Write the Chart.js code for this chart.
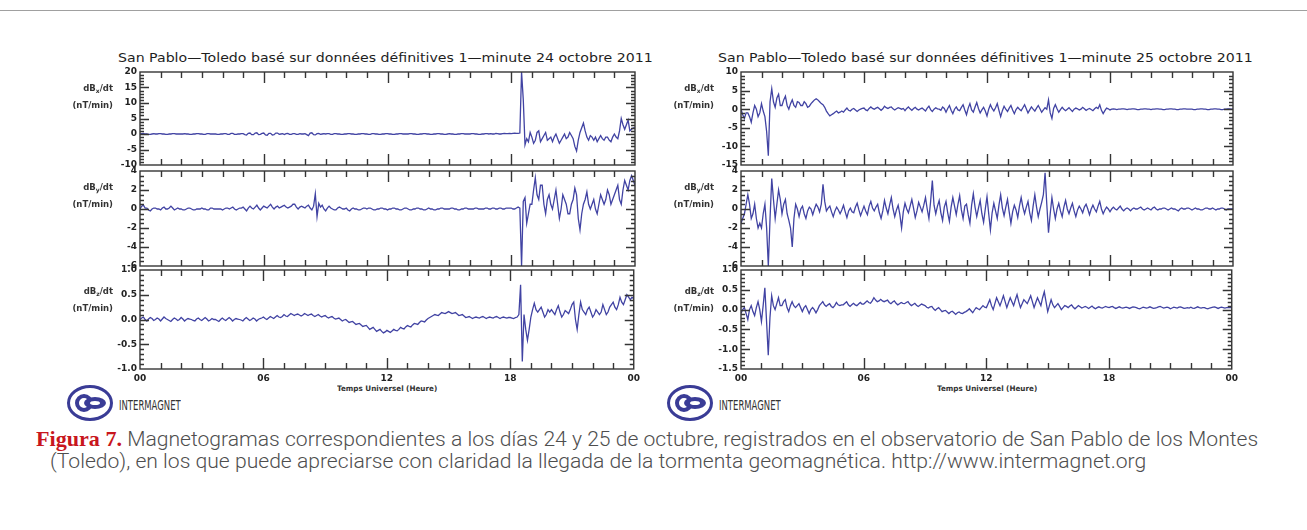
<!DOCTYPE html>
<html>
<head>
<meta charset="utf-8">
<script src="https://cdn.jsdelivr.net/npm/chart.js@4.4.1/dist/chart.umd.min.js"></script>
<style>
  body { margin: 0; background: #fff; }
  #page { position: relative; width: 1307px; height: 530px; overflow: hidden; background: #fff; }
  #page canvas { position: absolute; }
  .topline { position: absolute; left: 0; top: 10px; width: 1307px; height: 1px; background: #a0a0a0; }
  .title { position: absolute; font: 13px "DejaVu Sans", sans-serif; line-height: 14px; color: #1e1e1e; white-space: nowrap; transform-origin: 0 0; }
  .ylab { position: absolute; width: 60px; text-align: right; font: bold 8.5px "DejaVu Sans", sans-serif; line-height: 17px; color: #333; white-space: nowrap; }
  .ylab sub { font-size: 6px; vertical-align: -2px; line-height: 0; }
  .xtitle { position: absolute; font: bold 7.5px "DejaVu Sans", sans-serif; line-height: 9px; color: #333; white-space: nowrap; transform-origin: 0 0; }
  .logo { position: absolute; width: 46px; height: 36px; }
  .logo .ring { position: absolute; left: 0; top: 0; width: 46px; height: 36px; box-sizing: border-box; border: 3px solid #3a3c96; border-radius: 50%; }
  .logo .c { position: absolute; left: 8px; top: 9px; width: 18px; height: 18px; box-sizing: border-box; border: 4px solid #3a3c96; border-radius: 50%; }
  .logo .o { position: absolute; left: 17px; top: 12px; width: 22px; height: 12px; background: #3a3c96; border-radius: 50%; }
  .logo .o::after { content: ""; position: absolute; left: 6px; top: 4px; width: 10px; height: 4px; background: #fff; border-radius: 50%; }
  .im { position: absolute; font: 14px "Liberation Sans Narrow", "DejaVu Sans Condensed", sans-serif; line-height: 14px; color: #333; white-space: nowrap; transform-origin: 0 0; }
  .cap { position: absolute; font: 300 21px Roboto, "DejaVu Sans Condensed", sans-serif; line-height: 22px; color: #4e4e4e; white-space: nowrap; transform-origin: 0 0; }
  .cap .fig { font: bold 22px "Liberation Serif", serif; color: #c8161d; }
</style>
</head>
<body>
<div id="page">
  <div class="topline"></div>
  <div class="title" id="title24" style="left:118px;top:51px">San Pablo—Toledo basé sur données définitives 1—minute 24 octobre 2011</div>
  <div class="title" id="title25" style="left:718px;top:51px">San Pablo—Toledo basé sur données définitives 1—minute 25 octobre 2011</div>
  <div class="xtitle" id="xt24" style="left:337px;top:384px">Temps Universel (Heure)</div>
  <div class="xtitle" id="xt25" style="left:937px;top:384px">Temps Universel (Heure)</div>
  <div class="logo" style="left:67px;top:385px"><div class="ring"></div><div class="c"></div><div class="o"></div></div>
  <div class="im" id="im24" style="left:119px;top:398px">INTERMAGNET</div>
  <div class="logo" style="left:667px;top:385px"><div class="ring"></div><div class="c"></div><div class="o"></div></div>
  <div class="im" id="im25" style="left:719px;top:398px">INTERMAGNET</div>
  <div class="cap" id="cap1" style="left:36px;top:426px"><span class="fig">Figura 7.</span> Magnetogramas correspondientes a los días 24 y 25 de octubre, registrados en el observatorio de San Pablo de los Montes</div>
  <div class="cap" id="cap2" style="left:50px;top:450px">(Toledo), en los que puede apreciarse con claridad la llegada de la tormenta geomagnética. http://www.intermagnet.org</div>
</div>
<script>
// one value every 5 minutes, 00:00 -> 24:00 (289 values, 12 per row = 1 hour)
const STEP = 5;
const hourLabels = ['00', '06', '12', '18', '00'];

// 24 octobre 2011
const oct24Bx = [
  0, 0.1, 0.2, 0, 0, -0.1, -0.1, 0, 0.1, 0, 0, 0.1,
  0.1, 0, 0, -0.1, -0.1, 0, 0, 0.1, 0.1, 0, 0, 0,
  0, 0, 0.1, 0, 0, -0.1, -0.1, 0, 0, 0.1, 0.1, 0,
  0, -0.1, -0.1, 0.1, 0.1, 0, 0, 0, 0, -0.1, -0.1, 0,
  0, 0.1, 0.1, -0.1, -0.1, 0.2, 0.2, -0.1, -0.1, 0, 0, 0.1,
  0.1, -0.2, -0.3, 0.2, 0.3, -0.2, -0.2, 0.3, 0.4, -0.2, -0.1, 0.2,
  0.3, -0.3, -0.4, 0.2, 0.2, -0.3, -0.2, 0.3, 0.3, -0.1, 0, 0.1,
  -0.2, 0.1, 0.2, -0.1, -0.1, 0.1, 0.1, -0.1, -0.1, 0.1, 0, 0,
  0.1, -0.2, -0.5, 0.3, 0.4, -0.2, -0.3, 0.1, 0.2, -0.1, 0, 0.1,
  0, 0.1, 0.1, -0.1, -0.1, 0.1, 0.1, 0, 0, -0.1, -0.1, 0,
  0, 0.1, 0.1, 0, 0, -0.1, -0.1, 0, 0, 0.1, 0.1, 0,
  0, -0.1, -0.1, 0.1, 0.1, 0, 0, -0.1, -0.1, 0, 0, 0.1,
  0.1, 0, 0, -0.1, -0.1, 0, 0, 0.1, 0.1, 0, 0, 0,
  0, 0.1, 0.1, 0, 0, -0.1, -0.1, 0, 0, 0.1, 0.1, 0,
  0, -0.1, -0.1, 0, 0, 0.1, 0.1, 0, 0, -0.1, -0.1, 0,
  0.1, 0, 0, -0.1, -0.1, 0, 0, 0.1, 0.1, 0, 0, 0,
  0, 0.1, 0.1, 0, 0, -0.1, -0.1, 0, 0, 0.1, 0.1, 0,
  0.1, 0, 0, 0.2, 0.1, 0, 0, 0.1, 0.2, 0.1, 0.1, 0.2,
  0.1, 0.2, 0.3, 0.2, 0.2, 0.3, 20, 11, -3.5, -1.5, -2.5, 0.5,
  -1, -3, -2, 0.5, 1, -2.5, -1.5, -0.5, 0.5, -2, -1.5, -1,
  -2.5, -1, 0, -1.5, -3, -2, -1, 0, -1.5, -1, 0.5, -0.5,
  -1.5, -4, -5.5, -2, 0.5, 2, 3.5, 1, -1, -2, -0.5, -1,
  -2, -1, -2.5, -1.5, -0.5, -1.5, -2, -1, -1, -2, -2.5, -1,
  0, -1, -1.5, 1, 5, 3, 1.5, 3, 4.5, 1, 1.5, 2,
  2
];
const oct24By = [
  0, 0.3, 0.4, 0.1, 0.1, -0.1, -0.2, 0, 0.1, 0.1, 0, 0,
  -0.1, 0.1, 0.2, 0, 0, 0.1, 0.3, 0.1, -0.1, 0, 0.1, 0,
  0, -0.1, -0.1, 0, 0.1, 0.1, 0, -0.1, -0.1, 0, 0, 0,
  0.1, 0, 0, -0.1, -0.1, 0.1, 0.1, 0, 0, 0, 0, 0,
  -0.1, 0, 0.1, 0.1, 0, 0.1, 0.2, 0, -0.1, 0, 0.1, 0.1,
  0.2, 0, -0.2, 0.1, 0.3, 0.1, 0, 0.2, 0.4, 0.1, -0.1, 0.1,
  0.3, 0.2, 0.1, 0.3, 0.5, 0.2, 0, 0.2, 0.3, 0.1, 0.2, 0.3,
  0.4, 0.2, 0.1, 0.2, 0.3, 0.5, 0.5, 0.2, 0, 0.2, 0.3, 0.2,
  0.1, 0.3, 0.4, 0.1, -0.1, 0.3, 1.6, -0.8, 0.6, 0.2, 0.4, 0,
  -0.2, 0.1, 0.3, 0.1, 0, -0.1, -0.1, 0.1, 0.2, 0.1, 0, 0,
  0.1, -0.1, -0.2, 0, 0.1, 0, 0, -0.1, -0.1, 0, 0.1, 0.1,
  0, 0.1, 0.1, 0, -0.1, -0.1, 0, 0, 0.1, 0.1, 0, 0,
  -0.1, 0, 0, 0.1, 0.1, 0, 0, -0.1, -0.1, 0, 0.1, 0.1,
  0, -0.1, -0.1, 0, 0, 0.1, 0.1, 0, 0, -0.1, -0.1, 0,
  0.1, 0, 0, -0.1, -0.1, 0, 0, 0.1, 0.1, 0, 0, 0,
  0, 0.1, 0.1, 0, 0, -0.1, -0.1, 0, 0, 0.1, 0.1, 0,
  0, 0, 0, 0.1, 0.1, 0, 0, 0, 0, 0.1, 0.1, 0,
  0, 0.1, 0.1, 0, 0, 0.1, 0.1, 0, 0, 0.1, 0.1, 0.1,
  0.1, 0, 0, 0.1, 0.2, 0.1, -6, 0.8, 1.2, -1.5, -0.5, 0.5,
  0.5, 2, 3.3, 1.5, 1, 2.5, 2.5, 0.5, -0.5, 1, 1.5, 0.5,
  0, 1, 2, 0.5, -1, 0, 1.5, 1, 0.5, -0.5, -0.5, 0.5,
  1, 2.2, 1.5, -1, -2.2, -0.5, 0.5, 1, 1.8, 0.5, 0, 0.5,
  1, 0, -0.5, 0.5, 1.5, 1, 0.5, 1, 2, 1.5, 0.5, 1,
  1.5, 2, 2.5, 1, 0.5, 2, 3, 2.5, 2, 3, 3.5, 3,
  2.5
];
const oct24Bz = [
  0, 0.03, 0.05, 0, -0.03, 0.01, 0.04, 0.02, -0.02, 0, 0.03, 0.01,
  -0.03, 0.01, 0.05, 0.02, 0, -0.02, -0.04, 0, 0.03, 0.01, -0.02, 0,
  0.04, 0.01, -0.03, 0, 0.02, 0.01, 0, -0.02, -0.03, 0.01, 0.03, 0,
  -0.02, 0.01, 0.04, 0.01, -0.03, -0.01, 0.02, 0, 0, -0.02, -0.04, 0,
  0.03, 0, -0.02, 0.01, 0.04, 0.01, -0.03, 0, 0.02, 0.01, 0, -0.01,
  -0.03, 0.01, 0.04, 0.01, -0.02, 0, 0.03, 0.01, -0.03, 0, 0.02, 0.03,
  0.05, 0.02, 0, 0.03, 0.06, 0.04, 0.02, 0.05, 0.08, 0.05, 0.04, 0.06,
  0.1, 0.07, 0.06, 0.09, 0.12, 0.1, 0.08, 0.1, 0.11, 0.09, 0.07, 0.09,
  0.12, 0.1, 0.08, 0.1, 0.11, 0.08, 0.06, 0.08, 0.1, 0.07, 0.05, 0.07,
  0.08, 0.05, 0.03, 0.05, 0.06, 0.03, 0.01, 0.02, 0.03, 0, -0.03, -0.01,
  0, -0.03, -0.06, -0.05, -0.04, -0.07, -0.1, -0.09, -0.08, -0.11, -0.14, -0.13,
  -0.12, -0.16, -0.2, -0.18, -0.16, -0.2, -0.24, -0.22, -0.2, -0.24, -0.27, -0.25,
  -0.22, -0.24, -0.26, -0.23, -0.2, -0.22, -0.23, -0.2, -0.16, -0.18, -0.19, -0.15,
  -0.12, -0.14, -0.15, -0.11, -0.08, -0.09, -0.1, -0.06, -0.03, -0.04, -0.05, -0.01,
  0.02, 0.04, 0.06, 0.08, 0.1, 0.09, 0.08, 0.11, 0.14, 0.13, 0.12, 0.14,
  0.16, 0.14, 0.12, 0.13, 0.14, 0.11, 0.08, 0.09, 0.1, 0.07, 0.04, 0.05,
  0.06, 0.04, 0.02, 0.04, 0.05, 0.04, 0.03, 0.05, 0.06, 0.04, 0.02, 0.04,
  0.05, 0.04, 0.03, 0.05, 0.06, 0.04, 0.02, 0.04, 0.05, 0.04, 0.03, 0.04,
  0.04, 0.03, 0.02, 0.04, 0.05, 0.1, 0.7, -0.85, 0.1, -0.2, -0.42, -0.2,
  0.05, 0.2, 0.33, 0.2, 0.15, 0.2, 0.25, 0.15, 0.05, 0.1, 0.2, 0.15,
  0.2, 0.15, 0.1, 0.2, 0.28, 0.15, 0.05, 0.1, 0.18, 0.15, 0.12, 0.2,
  0.3, 0.35, 0, -0.2, 0.1, 0.35, 0.2, 0.15, 0.1, 0.2, 0.25, 0.15,
  0.05, 0.1, 0.2, 0.15, 0.1, 0.15, 0.3, 0.2, 0.1, 0.15, 0.25, 0.3,
  0.35, 0.25, 0.2, 0.3, 0.45, 0.35, 0.3, 0.4, 0.5, 0.45, 0.4, 0.45,
  0.42
];

// 25 octobre 2011
const oct25Bx = [
  0, -1.5, -2.5, -1, -1, -2, -3.5, -1, 1, 0, -2, -1,
  1.5, -0.5, -2, -6, -12.5, 2, 5.5, 2, 0.5, 3, 4, 1,
  1, 2.5, 3.5, 1, 0, 1.5, 2.5, 1, 0.5, 2, 1.8, 1,
  1, 2, 1.5, 0.5, 0.8, 1.5, 2, 2.5, 2.8, 2.5, 2, 1.5,
  1.2, 0.5, -0.5, -1.2, -1.8, -1.5, -1.2, -0.8, -0.5, -1, -0.8, -0.5,
  -0.8, -0.2, 0.3, -0.3, -0.5, 0, 0.2, -0.2, -0.6, -0.2, 0, 0.2,
  0.3, -0.2, -0.4, 0.2, 0.6, 0.2, 0, 0.3, 0.5, 0.1, -0.3, 0.1,
  0.8, 0.4, 0.2, 0.5, 0.6, 0.1, -0.2, 0.1, 0.4, 0.2, 0, 0.2,
  -0.4, 0.2, 0.6, 0.1, -0.3, 0.2, 0.5, 0, -0.2, 0.1, 0.3, -0.1,
  -0.5, 0.3, 0.8, -0.1, -0.6, 0, 0.4, 0.1, 0, -0.3, 0.6, 0.2,
  -0.8, 0.2, 1, -0.3, -1.2, 0, 0.6, -0.2, -0.4, 0.5, 1.2, -0.2,
  -1.5, 0.3, 1.5, -0.2, -0.8, 0.6, 1.8, 0.2, -1, -0.2, 0.5, -0.5,
  -1.8, 0, 1.2, 0.2, -0.5, 0.4, 1.5, -0.3, -2, -0.4, 0.8, 0,
  -0.6, 0.3, 1, -0.2, -1.2, -0.1, 0.5, 0, -0.4, 0.4, 1.2, 0.1,
  -1, -0.2, 0.6, 0, -0.5, 0.3, 1, 0.1, -0.8, -0.2, 0.4, 0,
  2.5, -1, -2.5, 0.2, 1.2, 0.1, -0.8, -0.1, 0.5, 0, -0.4, 0,
  0.4, -0.1, -0.6, 0, 0.3, 0.1, -0.2, 0, 0.5, 0.1, -0.3, 0,
  0.2, -0.1, -0.4, 0.1, 0.5, 0.2, 1.2, -0.3, -1.2, -0.4, 0.3, 0.1,
  -0.2, 0, 0.1, 0, -0.1, 0, 0, 0.1, 0.1, 0, -0.1, 0,
  0, 0.1, 0.1, 0, -0.1, -0.1, 0, 0, 0.1, 0.1, 0, 0,
  -0.1, 0, 0, 0.1, 0.1, 0, 0, -0.1, -0.1, 0, 0, 0.1,
  0.1, 0, 0, -0.1, -0.1, 0, 0, 0.1, 0.1, 0, 0, 0,
  0, -0.1, -0.1, 0, 0, 0.1, 0.1, 0, 0, -0.1, -0.1, 0,
  0, 0.1, 0.1, 0, 0, -0.1, -0.1, 0, 0, 0.1, 0.1, 0,
  0
];
const oct25By = [
  -1.5, -1, -0.5, 0.5, 1.5, 0.5, -1, -0.5, 0.5, -1, -2, -1.5,
  -2, -0.5, 0.5, -2, -6, -1, 3.2, 1, -1, 0.5, 2, 1,
  -0.5, 0.5, 1, -0.5, -1.2, -2, -4, -1, 0.5, 0, -0.8, 0,
  0.3, -0.5, -1, -0.2, 0.2, 0, -0.6, 0, 0.5, 0.2, -0.3, 0.5,
  2.6, 0.8, -0.2, 0.1, 0.3, -0.3, -0.8, -0.2, 0.2, -0.1, -0.5, -0.1,
  0.4, -0.3, -0.9, -0.2, 0.1, -0.3, -0.4, 0.2, 0.6, -0.1, -0.7, -0.2,
  0.3, -0.2, -0.6, 0.3, 0.8, 0.1, -0.2, 0.2, 0.5, -0.4, -1, -0.2,
  0.9, 0.1, -0.5, 0.4, 1.2, 0, -0.8, -0.1, 0.4, -0.6, -2, -0.3,
  0.6, 0, -0.4, 0.3, 1, 0.1, -0.9, -0.2, 0.7, 0.2, -0.3, 0.4,
  1.2, 0, -1, 0.8, 3, 0.4, -0.5, 0.3, 0.9, -0.4, -1.2, 0.2,
  0.8, -0.4, -1.3, 0.2, 1.2, 0.3, -0.6, 0.5, 1.4, -0.1, -1, 0.3,
  0.5, -0.6, -1.5, 0.4, 1.6, 0.2, -0.8, 0.1, 0.9, -0.5, -1.4, 0,
  1.3, -0.5, -2.2, -0.4, 0.6, -0.2, -1, 0.4, 1.5, 0.1, -0.7, 0.2,
  1, -0.3, -1.5, -0.3, 0.4, -0.1, -0.9, 0.3, 1.2, 0.2, -0.5, 0.2,
  0.8, -0.4, -1.2, 0.3, 1.5, 0.2, -0.8, 0, 0.7, 1.5, 3.8, 0.5,
  -2.5, -0.5, 1.2, 0, -1, 0, 0.6, -0.2, -0.8, 0.2, 0.9, 0,
  -0.5, 0.1, 0.6, -0.2, -0.8, -0.1, 0.3, 0, -0.4, 0.2, 0.5, 0,
  -0.6, 0, 0.4, 0, -0.3, 0.3, 0.8, 0, -0.5, -0.1, 0.2, 0,
  -0.3, 0, 0.2, 0, -0.1, 0.1, 0.3, 0, -0.2, 0, 0.1, 0,
  -0.2, 0, 0.1, 0, 0, 0.1, 0.2, 0, -0.1, 0, 0.1, 0,
  -0.1, 0.1, 0.2, 0, -0.1, 0, 0, 0.1, 0.1, 0, -0.1, 0,
  0.1, 0, 0, -0.1, -0.2, 0, 0.1, 0, 0, 0.1, 0.1, 0,
  -0.1, 0, 0.1, 0, 0, -0.1, -0.1, 0, 0.1, 0.1, 0, 0,
  0.1, 0, -0.1, 0, 0, 0.1, 0.1, 0, -0.1, 0, 0, 0,
  0
];
const oct25Bz = [
  -0.1, 0, 0.05, -0.1, -0.25, 0, 0.1, -0.05, -0.15, 0.05, 0.2, 0,
  -0.3, 0.1, 0.55, -0.3, -1.15, -0.2, 0.35, 0.1, 0, 0.15, 0.3, 0.1,
  0.1, 0.2, 0.25, 0.05, -0.05, 0.1, 0.2, 0.1, 0.05, 0.1, 0.15, 0.05,
  -0.05, 0.05, 0.1, 0, -0.1, 0, 0.05, 0, -0.08, 0, 0.1, 0.15,
  0.2, 0.12, 0.08, 0.12, 0.15, 0.08, 0.05, 0.1, 0.18, 0.12, 0.1, 0.12,
  0.12, 0.16, 0.2, 0.12, 0.08, 0.12, 0.16, 0.12, 0.1, 0.14, 0.18, 0.14,
  0.14, 0.18, 0.22, 0.18, 0.16, 0.22, 0.3, 0.24, 0.2, 0.22, 0.26, 0.22,
  0.2, 0.22, 0.24, 0.18, 0.15, 0.19, 0.22, 0.16, 0.12, 0.15, 0.18, 0.16,
  0.15, 0.18, 0.2, 0.14, 0.1, 0.13, 0.16, 0.11, 0.08, 0.11, 0.14, 0.12,
  0.1, 0.06, 0.04, 0.07, 0.08, 0.02, -0.02, 0.02, 0.05, 0, -0.05, -0.03,
  -0.02, -0.06, -0.1, -0.06, -0.04, -0.08, -0.12, -0.08, -0.06, -0.09, -0.1, -0.07,
  -0.05, -0.02, 0.02, -0.03, -0.08, -0.01, 0.05, 0.02, 0, 0.05, 0.1, 0.06,
  0.05, 0.15, 0.25, 0.1, 0, 0.15, 0.3, 0.2, 0.1, 0.22, 0.35, 0.2,
  0.05, 0.18, 0.3, 0.2, 0.1, 0.25, 0.38, 0.2, 0.05, 0.15, 0.25, 0.2,
  0.15, 0.25, 0.35, 0.2, 0.05, 0.18, 0.3, 0.2, 0.1, 0.3, 0.45, 0.2,
  -0.05, 0.1, 0.25, 0.12, 0.05, 0.1, 0.15, 0.08, 0, 0.05, 0.1, 0.08,
  0.05, 0.09, 0.12, 0.06, 0.02, 0.06, 0.1, 0.07, 0.04, 0.06, 0.08, 0.06,
  0.03, 0.06, 0.09, 0.05, 0.02, 0.05, 0.07, 0.05, 0.04, 0.06, 0.08, 0.06,
  0.05, 0.07, 0.08, 0.05, 0.03, 0.05, 0.07, 0.05, 0.04, 0.05, 0.06, 0.05,
  0.03, 0.05, 0.07, 0.06, 0.05, 0.03, 0.02, 0.04, 0.06, 0.05, 0.04, 0.05,
  0.07, 0.05, 0.03, 0.04, 0.05, 0.07, 0.08, 0.06, 0.04, 0.05, 0.06, 0.05,
  0.02, 0.04, 0.06, 0.05, 0.04, 0.06, 0.07, 0.05, 0.03, 0.04, 0.05, 0.04,
  0.06, 0.04, 0.03, 0.05, 0.07, 0.05, 0.04, 0.05, 0.05, 0.03, 0.02, 0.04,
  0.05, 0.06, 0.07, 0.05, 0.03, 0.05, 0.06, 0.05, 0.04, 0.05, 0.05, 0.05,
  0.05
];

// where the six plot boxes sit on the page
const COLS = [{ left: 140, w: 495 }, { left: 741, w: 492 }];
const ROWS = [{ top: 72, h: 93 }, { top: 171, h: 95 }, { top: 270, h: 99 }];
const YW = 62, PT = 8, PR = 10, PB = 8, XH = 18, XB = 30;
const LINE = '#4143a3';
const AXIS = '#353535';
const TICKFONT = { family: 'DejaVu Sans', size: 9, weight: 'bold', lineHeight: 1 };

const plots = [
  { col: 0, row: 0, comp: 'x', data: oct24Bx, min: -10, max: 20, step: 5, minor: 1 },
  { col: 0, row: 1, comp: 'y', data: oct24By, min: -6, max: 4, step: 2, minor: 0.5 },
  { col: 0, row: 2, comp: 'z', data: oct24Bz, min: -1, max: 1, step: 0.5, minor: 0.1 },
  { col: 1, row: 0, comp: 'x', data: oct25Bx, min: -15, max: 10, step: 5, minor: 1 },
  { col: 1, row: 1, comp: 'y', data: oct25By, min: -6, max: 4, step: 2, minor: 0.5 },
  { col: 1, row: 2, comp: 'z', data: oct25Bz, min: -1.5, max: 1, step: 0.5, minor: 0.1 }
];

// IDL-like box with inward ticks on all four sides
const boxTicks = {
  id: 'boxTicks',
  afterDatasetsDraw(chart, args, opts) {
    const { ctx, chartArea: a, scales: { x, y } } = chart;
    ctx.save();
    ctx.strokeStyle = AXIS;
    ctx.lineWidth = 1.4;
    ctx.strokeRect(a.left, a.top, a.right - a.left, a.bottom - a.top);
    ctx.beginPath();
    for (let m = 60; m < 1440; m += 60) {
      const px = Math.round(x.getPixelForValue(m)) + 0.5;
      const len = m % 360 === 0 ? 11 : 6;
      ctx.moveTo(px, a.bottom); ctx.lineTo(px, a.bottom - len);
      ctx.moveTo(px, a.top); ctx.lineTo(px, a.top + len);
    }
    const n = Math.round((opts.max - opts.min) / opts.minor);
    for (let k = 1; k < n; k++) {
      const v = opts.min + k * opts.minor;
      const r = v / opts.step;
      const len = Math.abs(r - Math.round(r)) < 1e-6 ? 9 : 4;
      const py = Math.round(y.getPixelForValue(v)) + 0.5;
      ctx.moveTo(a.left, py); ctx.lineTo(a.left + len, py);
      ctx.moveTo(a.right, py); ctx.lineTo(a.right - len, py);
    }
    ctx.stroke();
    ctx.restore();
  }
};

const page = document.getElementById('page');

plots.forEach(p => {
  const col = COLS[p.col], row = ROWS[p.row], last = p.row === 2;
  const canvas = document.createElement('canvas');
  canvas.width = YW + col.w + PR;
  canvas.height = PT + row.h + (last ? XB : PB);
  canvas.style.left = (col.left - YW) + 'px';
  canvas.style.top = (row.top - PT) + 'px';
  page.appendChild(canvas);

  // y-axis caption, two lines
  const lab = document.createElement('div');
  lab.className = 'ylab';
  lab.style.left = (col.left - 27 - 60) + 'px';
  lab.style.top = (row.top + (last ? 13 : 8)) + 'px';
  lab.innerHTML = 'dB<sub>' + p.comp + '</sub>/dt<br>(nT/min)';
  page.appendChild(lab);

  const xOpts = {
    type: 'linear', min: 0, max: 1440, display: last,
    grid: { display: false, drawTicks: false }, border: { display: false },
    ticks: {
      stepSize: 360, padding: 5, maxRotation: 0, autoSkip: false,
      font: TICKFONT, color: '#222',
      callback: v => hourLabels[Math.round(v / 360)]
    }
  };
  if (last) xOpts.afterFit = s => { s.height = XH; };

  new Chart(canvas, {
    type: 'line',
    data: {
      datasets: [{
        data: p.data.map((v, i) => ({ x: i * STEP, y: v })),
        borderColor: LINE,
        borderWidth: 1.3,
        pointRadius: 0,
        tension: 0
      }]
    },
    options: {
      responsive: false,
      animation: false,
      layout: { padding: { top: PT, right: PR, bottom: last ? XB - XH : PB, left: 0 } },
      plugins: {
        legend: { display: false },
        tooltip: { enabled: false },
        boxTicks: { min: p.min, max: p.max, step: p.step, minor: p.minor }
      },
      scales: {
        x: xOpts,
        y: {
          min: p.min, max: p.max,
          grid: { display: false, drawTicks: false }, border: { display: false },
          ticks: {
            stepSize: p.step, padding: 3, autoSkip: false,
            font: TICKFONT, color: '#222',
            callback: v => (p.step < 1 ? v.toFixed(1) : String(v))
          },
          afterFit: s => { s.width = YW; }
        }
      }
    },
    plugins: [boxTicks]
  });
});

// stretch text blocks to the widths seen in the figure
function fit(id, w) {
  const el = document.getElementById(id);
  const k = w / el.offsetWidth;
  el.style.transform = 'scaleX(' + k + ')';
  return k;
}
fit('title24', 535);
fit('title25', 535);
fit('xt24', 100);
fit('xt25', 100);
fit('im24', 62);
fit('im25', 62);
const k = fit('cap1', 1222);
document.getElementById('cap2').style.transform = 'scaleX(' + k + ')';
</script>
</body>
</html>
